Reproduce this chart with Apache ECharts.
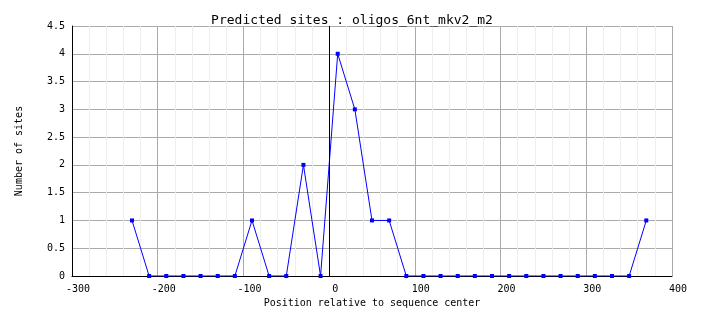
<!DOCTYPE html>
<html>
<head>
<meta charset="utf-8">
<script src="https://cdn.jsdelivr.net/npm/echarts@6/dist/echarts.min.js"></script>
<style>
  html, body { margin: 0; padding: 0; background: #ffffff; }
  #chart { width: 704px; height: 328px; }
</style>
</head>
<body>
<div id="chart"></div>
<script>
const titleText = 'Predicted sites : oligos_6nt_mkv2_m2';
const xName = 'Position relative to sequence center';
const yName = 'Number of sites';
const positions = [-230, -210, -190, -170, -150, -130, -110, -90, -70, -50, -30, -10, 10, 30, 50, 70, 90, 110, 130, 150, 170, 190, 210, 230, 250, 270, 290, 310, 330, 350, 370];
const sites = [1, 0, 0, 0, 0, 0, 0, 1, 0, 0, 2, 0, 4, 3, 1, 1, 0, 0, 0, 0, 0, 0, 0, 0, 0, 0, 0, 0, 0, 0, 1];

const mono = 'DejaVu Sans Mono';
const chart = echarts.init(document.getElementById('chart'), null, { renderer: 'canvas' });
chart.setOption({
  backgroundColor: '#ffffff',
  animation: false,
  title: {
    text: titleText,
    left: 'center',
    top: 9,
    textStyle: { fontFamily: mono, fontSize: 13, fontWeight: 'normal', color: '#000' }
  },
  grid: { left: 72, right: 32, top: 26, bottom: 52, containLabel: false },
  xAxis: {
    type: 'value',
    min: -300, max: 400, interval: 100,
    name: xName,
    nameLocation: 'middle',
    nameGap: 22,
    nameTextStyle: { fontFamily: mono, fontSize: 10, color: '#000' },
    axisLine: { show: true, onZero: false, lineStyle: { color: '#000', width: 1 } },
    axisTick: { show: false },
    axisLabel: { fontFamily: mono, fontSize: 10, color: '#000', margin: 8, padding: [0, 0, 0, 12] },
    splitLine: { show: true, lineStyle: { color: '#aaaaaa', width: 1 } },
    minorTick: { show: false, splitNumber: 5 },
    minorSplitLine: { show: true, lineStyle: { color: '#eeeeee', width: 1 } }
  },
  yAxis: {
    type: 'value',
    min: 0, max: 4.5, interval: 0.5,
    name: yName,
    nameLocation: 'middle',
    nameGap: 48,
    nameTextStyle: { fontFamily: mono, fontSize: 10, color: '#000' },
    axisLine: { show: true, onZero: false, lineStyle: { color: '#000', width: 1 } },
    axisTick: { show: false },
    axisLabel: { fontFamily: mono, fontSize: 10, color: '#000', margin: 7 },
    splitLine: { show: true, lineStyle: { color: '#aaaaaa', width: 1 } }
  },
  series: [{
    type: 'line',
    data: positions.map((p, i) => [p, sites[i]]),
    symbol: 'rect',
    symbolSize: 4,
    showAllSymbol: true,
    lineStyle: { color: '#0000ff', width: 1 },
    itemStyle: { color: '#0000ff' },
    markLine: {
      silent: true,
      symbol: ['none', 'none'],
      label: { show: false },
      lineStyle: { color: '#000', width: 1, type: 'solid' },
      data: [{ xAxis: 0 }]
    },
    z: 3
  }]
});
</script>
</body>
</html>
